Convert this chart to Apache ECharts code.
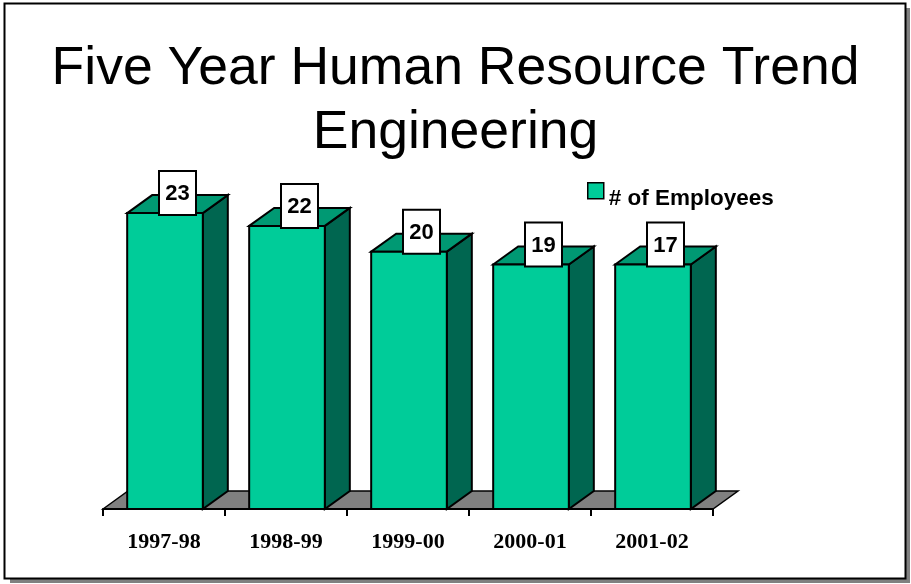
<!DOCTYPE html>
<html>
<head>
<meta charset="utf-8">
<script src="https://cdn.jsdelivr.net/npm/echarts@6/dist/echarts.min.js"></script>
<style>
  html, body { margin: 0; padding: 0; background: #fff; }
  #chart { width: 911px; height: 584px; }
</style>
</head>
<body>
<div id="chart"></div>
<script>
// ---- data ----
const titleLines = ['Five Year Human Resource Trend', 'Engineering'];
const seriesName = '# of Employees';
const categories = ['1997-98', '1998-99', '1999-00', '2000-01', '2001-02'];
// bar heights as drawn in the picture (last bar is drawn at the same height as the 4th)
const barHeights = [23, 22, 20, 19, 19];
// values written in the label boxes
const labelValues = [23, 22, 20, 19, 17];

// ---- styles ----
const FRONT = '#00CC99', TOP = '#009973', SIDE = '#006650', FLOOR = '#808080';
const DX = 25, DY = 18;

const chart = echarts.init(document.getElementById('chart'), null, { renderer: 'canvas' });

function barItem(params, api) {
  const v = api.value(1);
  const i = api.value(0);
  const topPt = api.coord([i, v]);
  const basePt = api.coord([i, 0]);
  const band = api.size([1, 0])[0];
  const bw = band * 0.62;
  const x0 = topPt[0] - bw / 2 + 1, x1 = x0 + bw;
  const yT = topPt[1], yB = basePt[1];
  const st = { stroke: '#000', lineWidth: 2, lineJoin: 'miter' };
  const cx = x0 + bw / 2 + DX / 2;
  return {
    type: 'group',
    children: [
      { type: 'polygon', shape: { points: [[x1, yT], [x1 + DX, yT - DY], [x1 + DX, yB - DY], [x1, yB]] },
        style: Object.assign({ fill: SIDE }, st) },
      { type: 'polygon', shape: { points: [[x0, yT], [x0 + DX, yT - DY], [x1 + DX, yT - DY], [x1, yT]] },
        style: Object.assign({ fill: TOP }, st) },
      { type: 'rect', shape: { x: x0, y: yT, width: bw, height: yB - yT },
        style: Object.assign({ fill: FRONT }, st) },
      { type: 'rect', z2: 10, shape: { x: cx - 18.5, y: yT + 2 - 44, width: 37, height: 44 },
        style: { fill: '#fff', stroke: '#000', lineWidth: 2 } },
      { type: 'text', z2: 11, style: {
          text: String(api.value(2)), x: cx, y: yT + 2 - 21,
          align: 'center', verticalAlign: 'middle',
          font: 'bold 22px "Liberation Sans", Arial, sans-serif', fill: '#000' } }
    ]
  };
}

function floorItem(params, api) {
  const cs = params.coordSys;
  const xL = cs.x, xR = cs.x + cs.width, y = cs.y + cs.height;
  return {
    type: 'polygon',
    shape: { points: [[xL, y], [xL + DX, y - DY], [xR + DX, y - DY], [xR, y]] },
    style: { fill: FLOOR, stroke: '#000', lineWidth: 1.5 }
  };
}

const option = {
  backgroundColor: '#fff',
  animation: false,
  graphic: [
    { type: 'rect', z: -10, shape: { x: 10, y: 8, width: 900, height: 575 }, style: { fill: '#808080' } },
    { type: 'rect', z: -9, shape: { x: 4.5, y: 3.5, width: 901, height: 575 }, style: { fill: '#fff', stroke: '#000', lineWidth: 2 } }
  ],
  title: {
    text: titleLines.join('\n'),
    left: 'center', top: 32,
    textStyle: { fontFamily: '"Liberation Sans", Arial, sans-serif', fontWeight: 'normal', fontSize: 53.5, lineHeight: 64, color: '#000' }
  },
  legend: {
    data: [{ name: seriesName, icon: 'rect' }],
    left: 582, top: 177,
    itemWidth: 16, itemHeight: 16, itemGap: 3,
    itemStyle: { color: FRONT, borderColor: '#000', borderWidth: 1.5 },
    formatter: '{t|{name}}',
    textStyle: {
      color: '#000',
      rich: { t: { fontFamily: '"Liberation Sans", Arial, sans-serif', fontWeight: 'bold', fontSize: 22.5, color: '#000', padding: [16, 0, 0, 0] } }
    }
  },
  grid: { left: 103, right: 198, top: 123, bottom: 75, containLabel: false },
  xAxis: {
    type: 'category', data: categories, boundaryGap: true,
    axisLine: { lineStyle: { color: '#000', width: 2 } },
    axisTick: { show: true, length: 7, lineStyle: { color: '#000', width: 2 } },
    axisLabel: { margin: 22, color: '#000', fontFamily: '"Liberation Serif", "Times New Roman", serif', fontWeight: 'bold', fontSize: 22 },
    z: 5
  },
  yAxis: { type: 'value', min: 0, max: 30, show: false, splitLine: { show: false } },
  series: [
    { type: 'custom', name: 'floor', silent: true, z: 1, renderItem: floorItem, data: [[0, 0]], encode: { x: 0, y: 1 } },
    { type: 'custom', name: seriesName, z: 6, renderItem: barItem,
      itemStyle: { color: FRONT },
      encode: { x: 0, y: 1 },
      data: barHeights.map((v, i) => [i, v, labelValues[i]]) }
  ]
};
chart.setOption(option);
</script>
</body>
</html>
